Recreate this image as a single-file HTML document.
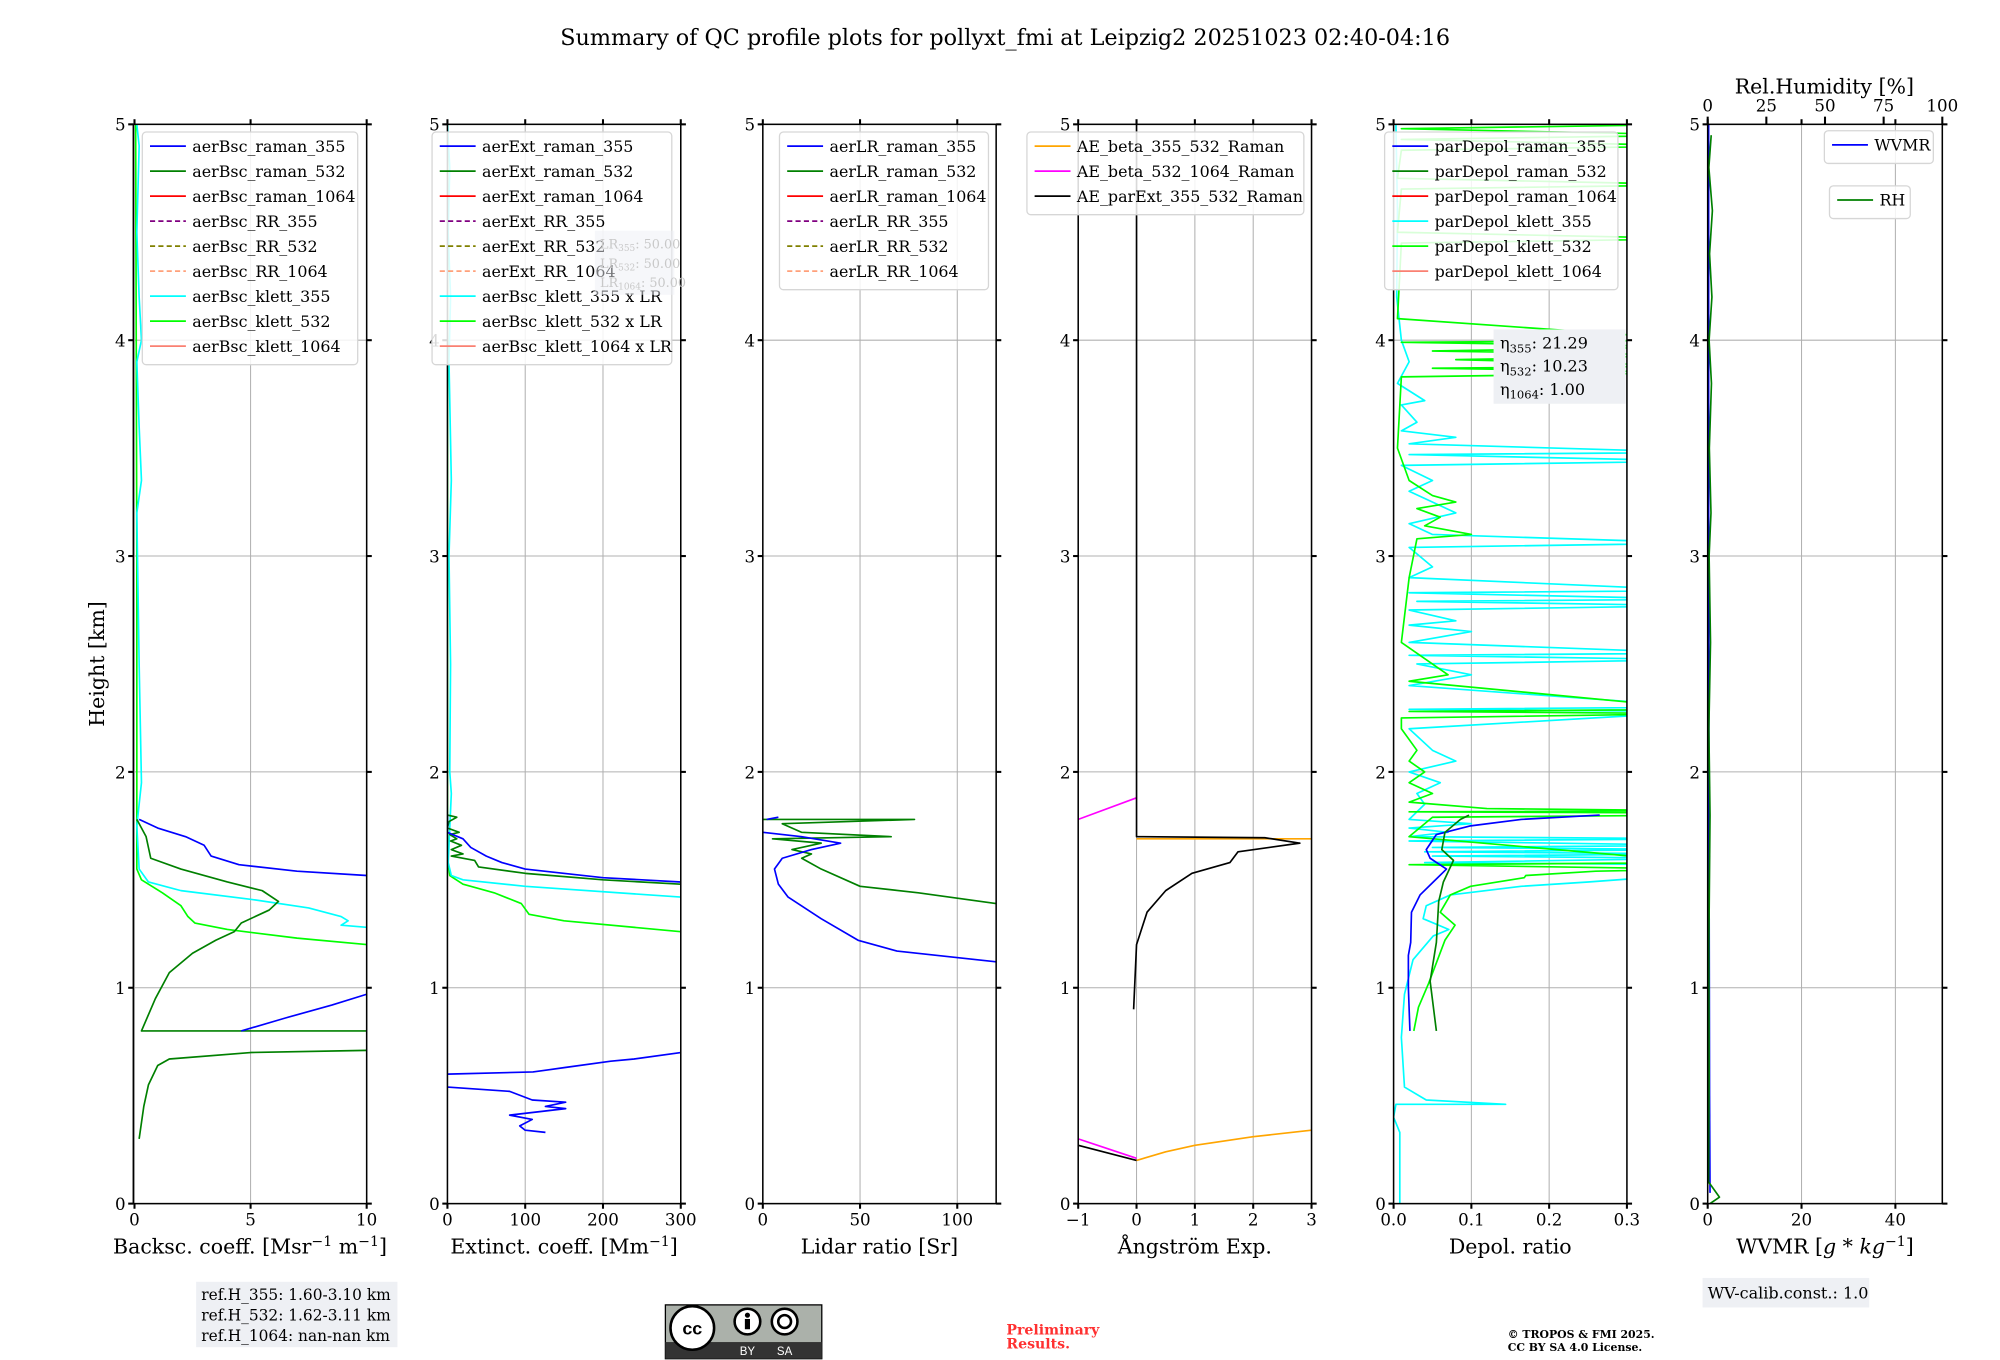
<!DOCTYPE html>
<html><head><meta charset="utf-8"><style>
html,body{margin:0;padding:0;background:#fff;}
svg{display:block;font-family:"DejaVu Serif","Liberation Serif",serif;}
</style></head><body>
<svg id="fig" width="2000" height="1360" viewBox="0 0 1560 1061" preserveAspectRatio="none" xmlns="http://www.w3.org/2000/svg">
<text x="784" y="35" font-size="17.4" text-anchor="middle">Summary of QC profile plots for pollyxt_fmi at Leipzig2 20251023 02:40-04:16</text>
<text transform="translate(81,518) rotate(-90)" font-size="16" text-anchor="middle">Height [km]</text>
</svg>
<script>
// ---------- data (value, height km) ----------
const heightTicks=[0,1,2,3,4,5];
const bscTicks=[0,5,10];
const extTicks=[0,100,200,300];
const lrTicks=[0,50,100];
const aeTicks=[-1,0,1,2,3];
const depTicks=[0,0.1,0.2,0.3];
const wvTicks=[0,20,40];
const rhTicks=[0,25,50,75,100];

const bsc355=[[0.2,1.78],[1,1.74],[2.2,1.70],[3.0,1.66],[3.3,1.61],[4.5,1.57],[7,1.54],[10,1.52],[30,1.50]];
const bsc355Low=[[4.6,0.80],[6.5,0.86],[8.5,0.92],[10,0.97],[30,1.1]];
const bsc532=[[0.1,1.78],[0.5,1.70],[0.7,1.60],[2,1.55],[4,1.49],[5.5,1.45],[6.2,1.40],[5.8,1.36],[4.6,1.30],[4.3,1.26],[3.5,1.22],[2.5,1.16],[1.5,1.07],[0.9,0.95],[0.3,0.80],[30,0.80],[30,0.72],[10,0.71],[5,0.70],[1.5,0.67],[1.0,0.64],[0.6,0.55],[0.4,0.45],[0.2,0.30]];
const bscKlett355=[[0.1,5.0],[0.2,4.9],[0.1,4.5],[0.2,4.2],[0.3,4.0],[0.1,3.9],[0.2,3.6],[0.3,3.35],[0.1,3.2],[0.2,2.5],[0.3,1.95],[0.1,1.75],[0.2,1.55],[0.6,1.49],[2,1.45],[5,1.41],[7.5,1.37],[8.9,1.33],[9.2,1.31],[8.9,1.29],[10,1.28],[30,1.25]];
const bscKlett532=[[0.05,5],[0.1,3],[0.1,1.55],[0.3,1.50],[1.2,1.44],[2,1.38],[2.3,1.33],[2.6,1.30],[4,1.27],[7,1.23],[10,1.20],[30,1.16]];

const ext355=[[0,1.80],[0,1.72],[20,1.69],[30,1.65],[50,1.61],[70,1.58],[100,1.55],[200,1.51],[300,1.49],[500,1.47]];
const ext355Low=[[500,0.72],[300,0.70],[240,0.67],[210,0.66],[150,0.63],[130,0.62],[110,0.61],[0,0.60]];
const ext355Low2=[[0,0.54],[80,0.52],[109,0.48],[152,0.47],[126,0.45],[152,0.44],[80,0.41],[109,0.39],[93,0.36],[100,0.34],[126,0.33]];
const ext532=[[0,1.80],[12,1.79],[2,1.77],[0,1.74],[15,1.72],[3,1.71],[12,1.69],[4,1.68],[18,1.66],[5,1.64],[20,1.62],[5,1.61],[35,1.59],[40,1.56],[100,1.53],[200,1.50],[300,1.48],[500,1.46]];
const extKlett355=[[0,5],[3,4.8],[1,4.5],[4,4.2],[2,3.9],[5,3.35],[2,3.0],[4,2.5],[3,2.0],[5,1.9],[1,1.58],[5,1.52],[20,1.50],[100,1.47],[300,1.42],[500,1.40]];
const extKlett532=[[0,5],[0,1.6],[3,1.52],[20,1.48],[60,1.44],[95,1.39],[105,1.34],[150,1.31],[300,1.26],[500,1.24]];

const lr355Top=[[2,1.78],[8,1.79]];
const lr355=[[0,1.72],[20,1.70],[40,1.67],[25,1.64],[10,1.60],[6,1.55],[8,1.48],[13,1.42],[30,1.32],[49,1.22],[69,1.17],[120,1.12],[200,1.08]];
const lr532=[[0,1.78],[78,1.78],[10,1.76],[20,1.72],[66,1.70],[5,1.69],[30,1.67],[15,1.64],[25,1.62],[20,1.60],[30,1.55],[50,1.47],[80,1.44],[120,1.39],[200,1.33]];

const aeParExt=[[0,5.2],[0,1.70],[2.2,1.695],[2.8,1.67],[1.74,1.63],[1.6,1.58],[0.95,1.53],[0.5,1.45],[0.18,1.35],[0,1.2],[-0.05,0.9]];
const aeParExtLow=[[-1,0.27],[0,0.2]];
const aeBsc355=[[0,1.69],[4,1.69]];
const aeBsc355Low=[[0,0.2],[0.5,0.24],[1,0.27],[2,0.31],[3,0.34]];
const aeBsc532=[[-1,1.78],[0,1.88]];
const aeBsc532Low=[[-1,0.30],[0,0.21]];

const dep355=[[0.265,1.80],[0.164,1.78],[0.099,1.75],[0.055,1.71],[0.042,1.64],[0.047,1.60],[0.068,1.55],[0.051,1.49],[0.034,1.43],[0.023,1.35],[0.022,1.21],[0.019,1.15],[0.019,1.00],[0.021,0.80]];
const dep532=[[0.097,1.80],[0.086,1.78],[0.066,1.72],[0.062,1.64],[0.077,1.59],[0.064,1.49],[0.058,1.40],[0.055,1.21],[0.047,1.03],[0.055,0.80]];
const depKlett355=[[0.003,5],[0.005,4.6],[0.004,4.2],[0.01,4.0],[0.02,3.9],[0.005,3.8],[0.04,3.72],[0.01,3.7],[0.03,3.62],[0.01,3.58],[0.08,3.55],[0.02,3.52],[0.4,3.48],[0.02,3.47],[0.4,3.44],[0.01,3.42],[0.05,3.35],[0.02,3.3],[0.08,3.2],[0.02,3.15],[0.05,3.1],[0.4,3.06],[0.02,3.04],[0.05,2.95],[0.02,2.9],[0.4,2.84],[0.02,2.83],[0.4,2.80],[0.03,2.79],[0.4,2.77],[0.02,2.75],[0.08,2.70],[0.02,2.68],[0.1,2.65],[0.02,2.6],[0.4,2.55],[0.02,2.54],[0.4,2.52],[0.03,2.5],[0.1,2.45],[0.02,2.4],[0.4,2.30],[0.02,2.29],[0.4,2.28],[0.02,2.2],[0.05,2.1],[0.08,2.05],[0.02,2.0],[0.06,1.95],[0.03,1.9],[0.04,1.85],[0.02,1.78],[0.1,1.76],[0.02,1.74],[0.07,1.72],[0.02,1.70],[0.4,1.69],[0.02,1.68],[0.4,1.66],[0.05,1.65],[0.4,1.64],[0.04,1.63],[0.4,1.62],[0.05,1.61],[0.4,1.60],[0.04,1.58],[0.4,1.57],[0.4,1.53],[0.25,1.49],[0.164,1.47],[0.073,1.43],[0.042,1.38],[0.038,1.32],[0.071,1.27],[0.051,1.24],[0.025,1.13],[0.014,0.97],[0.01,0.77],[0.014,0.54],[0.042,0.48],[0.144,0.46],[0.003,0.46],[0,0.40],[0.008,0.33],[0.008,0]];
const depKlett532=[[0.4,5.0],[0.01,4.98],[0.4,4.95],[0.01,4.93],[0.4,4.9],[0.01,4.88],[0.005,4.75],[0.4,4.72],[0.01,4.7],[0.005,4.5],[0.4,4.47],[0.01,4.45],[0.005,4.1],[0.4,4.0],[0.01,3.99],[0.4,3.97],[0.05,3.95],[0.4,3.93],[0.08,3.91],[0.4,3.88],[0.05,3.87],[0.4,3.85],[0.01,3.83],[0.005,3.5],[0.02,3.35],[0.05,3.28],[0.08,3.25],[0.03,3.22],[0.06,3.18],[0.04,3.14],[0.1,3.1],[0.03,3.08],[0.02,2.9],[0.01,2.6],[0.07,2.45],[0.02,2.42],[0.4,2.29],[0.02,2.28],[0.4,2.27],[0.01,2.25],[0.01,2.2],[0.03,2.1],[0.02,2.05],[0.04,2.0],[0.02,1.95],[0.05,1.9],[0.02,1.86],[0.12,1.83],[0.4,1.82],[0.02,1.815],[0.4,1.81],[0.4,1.80],[0.05,1.79],[0.02,1.7],[0.4,1.58],[0.02,1.57],[0.4,1.55],[0.26,1.54],[0.17,1.52],[0.168,1.51],[0.099,1.47],[0.073,1.43],[0.06,1.35],[0.079,1.29],[0.066,1.22],[0.045,1.02],[0.032,0.91],[0.026,0.80]];

const rh=[[1.5,4.95],[0.5,4.8],[2,4.6],[0.8,4.4],[1.8,4.2],[0.6,4.0],[1.6,3.8],[0.7,3.5],[1.4,3.2],[0.6,3.0],[1.2,2.6],[0.5,2.2],[1.0,1.8],[0.5,1.2],[0.6,0.6],[0.4,0.1],[5,0.03],[1,0.0]];
const wvmr=[[0.2,5],[0.2,3],[0.3,1.5],[0.4,0.5],[0.5,0.05]];

// ---------- drawing ----------
const NS='http://www.w3.org/2000/svg';
const svg=document.getElementById('fig');
const TOP=97,BOT=939;
function mk(tag,attrs,parent){const e=document.createElementNS(NS,tag);for(const k in attrs)e.setAttribute(k,attrs[k]);(parent||svg).appendChild(e);return e;}
function yOf(h){return BOT-(h/5)*(BOT-TOP);}
const panels=[];
function panel(name,left,width,xmin,xmax,ticks,fmt,xlabel){
  const p={name,left,width,xmin,xmax,x:v=>left+(v-xmin)/(xmax-xmin)*width};
  const g=mk('g',{});
  
  
  p.g=g;
  const cp=mk('clipPath',{id:'clip-'+name},g);
  mk('rect',{x:left,y:TOP,width:width,height:BOT-TOP},cp);
  ticks.forEach(t=>{const gl=mk('line',{x1:p.x(t),x2:p.x(t),y1:TOP,y2:BOT,stroke:'#b0b0b0','stroke-width':0.8},g);});
  heightTicks.forEach(t=>{const gl=mk('line',{x1:left,x2:left+width,y1:yOf(t),y2:yOf(t),stroke:'#b0b0b0','stroke-width':0.8},g);});
  p.series=mk('g',{'clip-path':'url(#clip-'+name+')'},g);
  const fr=mk('rect',{x:left,y:TOP,width:width,height:BOT-TOP,fill:'none',stroke:'#000','stroke-width':1.2},g);
  
  ticks.forEach(t=>{
    const X=p.x(t);
    mk('line',{x1:X,x2:X,y1:BOT,y2:BOT+4,stroke:'#000','stroke-width':1.6},g);
    mk('line',{x1:X,x2:X,y1:TOP,y2:TOP-4,stroke:'#000','stroke-width':1.6},g);
    const tl=mk('text',{x:X,y:BOT+17,'font-size':13,'text-anchor':'middle'},g);tl.textContent=fmt(t);
    
  });
  heightTicks.forEach(t=>{
    const Y=yOf(t);
    mk('line',{x1:left-4,x2:left,y1:Y,y2:Y,stroke:'#000','stroke-width':1.6},g);
    mk('line',{x1:left+width,x2:left+width+4,y1:Y,y2:Y,stroke:'#000','stroke-width':1.6},g);
    const tl=mk('text',{x:left-6,y:Y+5,'font-size':13,'text-anchor':'end'},g);tl.textContent=String(t);
    
  });
  const xl=mk('text',{x:left+width/2,y:978,'font-size':16,'text-anchor':'middle'},g);
  xl.innerHTML=xlabel;
  
  panels.push(p);return p;
}
function line(p,data,color,name,dash){
  const d=data.map((pt,i)=>(i?'L':'M')+p.x(pt[0]).toFixed(2)+','+yOf(pt[1]).toFixed(2)).join('');
  const e=mk('path',{d:d,fill:'none',stroke:color,'stroke-width':1.3,'stroke-linejoin':'round'},p.series);
  if(dash)e.setAttribute('stroke-dasharray',dash);
  
  
}
function legend(name,x,y,w,entries){
  const g=mk('g',{});
  
  
  const h=entries.length*19.5+6;
  mk('rect',{x:x,y:y,width:w,height:h,rx:3,fill:'#fff','fill-opacity':0.85,stroke:'#d6d6d6','stroke-width':1},g);
  entries.forEach((en,i)=>{
    const yy=y+11+i*19.5;
    const l=mk('line',{x1:x+6,x2:x+34,y1:yy,y2:yy,stroke:en[1],'stroke-width':1.4},g);
    if(en[2])l.setAttribute('stroke-dasharray','4,2.5');
    const t=mk('text',{x:x+39,y:yy+4.5,'font-size':12.4},g);t.textContent=en[0];
    
  });
}

const p1=panel('backscatter-panel',104,182,-0.05,10,bscTicks,String,'Backsc. coeff. [Msr<tspan font-size="11" dy="-6">−1</tspan><tspan dy="6"> m</tspan><tspan font-size="11" dy="-6">−1</tspan><tspan dy="6">]</tspan>');
const p2=panel('extinction-panel',349,182,0,300,extTicks,String,'Extinct. coeff. [Mm<tspan font-size="11" dy="-6">−1</tspan><tspan dy="6">]</tspan>');
const p3=panel('lidar-ratio-panel',595,182,0,120,lrTicks,String,'Lidar ratio [Sr]');
const p4=panel('angstrom-panel',841,182,-1,3,aeTicks,t=>t<0?'−'+Math.abs(t):String(t),'Ångström Exp.');
const p5=panel('depol-panel',1087,182,0,0.3,depTicks,t=>t.toFixed(1),'Depol. ratio');
const p6=panel('wv-panel',1332,183,0,50,wvTicks,String,'WVMR [<tspan font-style="italic">g * kg</tspan><tspan font-size="11" dy="-6">−1</tspan><tspan dy="6">]</tspan>');

line(p1,bscKlett532,'#00ff00','aerBsc-klett-532-line');
line(p1,bscKlett355,'#00ffff','aerBsc-klett-355-line');
line(p1,bsc532,'#008000','aerBsc-raman-532-line');
line(p1,bsc355,'#0000ff','aerBsc-raman-355-line');
line(p1,bsc355Low,'#0000ff','aerBsc-raman-355-lower-line');
line(p2,extKlett532,'#00ff00','aerBsc-klett-532-lr-line');
line(p2,extKlett355,'#00ffff','aerBsc-klett-355-lr-line');
line(p2,ext532,'#008000','aerExt-raman-532-line');
line(p2,ext355,'#0000ff','aerExt-raman-355-line');
line(p2,ext355Low,'#0000ff','aerExt-raman-355-lower-line');
line(p2,ext355Low2,'#0000ff','aerExt-raman-355-lowest-line');
line(p3,lr532,'#008000','aerLR-raman-532-line');
line(p3,lr355,'#0000ff','aerLR-raman-355-line');
line(p3,lr355Top,'#0000ff','aerLR-raman-355-top-line');
line(p4,aeBsc355,'#ffa500','ae-beta-355-532-line');
line(p4,aeBsc355Low,'#ffa500','ae-beta-355-532-lower-line');
line(p4,aeBsc532,'#ff00ff','ae-beta-532-1064-line');
line(p4,aeBsc532Low,'#ff00ff','ae-beta-532-1064-lower-line');
line(p4,aeParExt,'#000000','ae-parext-355-532-line');
line(p4,aeParExtLow,'#000000','ae-parext-355-532-lower-line');
line(p5,depKlett355,'#00ffff','parDepol-klett-355-line');
line(p5,depKlett532,'#00ff00','parDepol-klett-532-line');
line(p5,dep355,'#0000ff','parDepol-raman-355-line');
line(p5,dep532,'#008000','parDepol-raman-532-line');
line(p6,wvmr,'#0000ff','wvmr-line');
const rhP={x:v=>1332+v/100*183,series:p6.series};
line(rhP,rh,'#008000','rh-line');
rhTicks.forEach(t=>{
  const X=rhP.x(t);
  mk('line',{x1:X,x2:X,y1:TOP-6,y2:TOP,stroke:'#000','stroke-width':1.6});
  const tl=mk('text',{x:X,y:TOP-10,'font-size':13,'text-anchor':'middle'});tl.textContent=String(t);
  
});
const rht=mk('text',{x:1423,y:73,'font-size':16,'text-anchor':'middle'});rht.textContent='Rel.Humidity [%]';


legend('backscatter-legend',111,103,168,[['aerBsc_raman_355','#0000ff'],['aerBsc_raman_532','#008000'],['aerBsc_raman_1064','#ff0000'],['aerBsc_RR_355','#800080',1],['aerBsc_RR_532','#808000',1],['aerBsc_RR_1064','#ffa07a',1],['aerBsc_klett_355','#00ffff'],['aerBsc_klett_532','#00ff00'],['aerBsc_klett_1064','#fa8072']]);
legend('extinction-legend',337,103,187,[['aerExt_raman_355','#0000ff'],['aerExt_raman_532','#008000'],['aerExt_raman_1064','#ff0000'],['aerExt_RR_355','#800080',1],['aerExt_RR_532','#808000',1],['aerExt_RR_1064','#ffa07a',1],['aerBsc_klett_355 x LR','#00ffff'],['aerBsc_klett_532 x LR','#00ff00'],['aerBsc_klett_1064 x LR','#fa8072']]);
legend('lidar-ratio-legend',608,103,163,[['aerLR_raman_355','#0000ff'],['aerLR_raman_532','#008000'],['aerLR_raman_1064','#ff0000'],['aerLR_RR_355','#800080',1],['aerLR_RR_532','#808000',1],['aerLR_RR_1064','#ffa07a',1]]);
legend('angstrom-legend',801,103,216,[['AE_beta_355_532_Raman','#ffa500'],['AE_beta_532_1064_Raman','#ff00ff'],['AE_parExt_355_532_Raman','#000000']]);
legend('depol-legend',1080,103,182,[['parDepol_raman_355','#0000ff'],['parDepol_raman_532','#008000'],['parDepol_raman_1064','#ff0000'],['parDepol_klett_355','#00ffff'],['parDepol_klett_532','#00ff00'],['parDepol_klett_1064','#fa8072']]);
legend('wvmr-legend',1423,102,85,[['WVMR','#0000ff']]);
legend('rh-legend',1427,145,63,[['RH','#008000']]);
</script>
<svg style="position:absolute;left:0;top:0" width="2000" height="1360" viewBox="0 0 1560 1061" preserveAspectRatio="none" xmlns="http://www.w3.org/2000/svg" font-family="DejaVu Serif, Liberation Serif, serif">
<g fill="#c8c8c8" font-size="10">
<rect x="464" y="180" width="62" height="50" fill="#eef0f6" fill-opacity="0.5"/>
<text x="468" y="194">LR<tspan font-size="7" dy="2">355</tspan><tspan dy="-2">: 50.00</tspan></text>
<text x="468" y="209">LR<tspan font-size="7" dy="2">532</tspan><tspan dy="-2">: 50.00</tspan></text>
<text x="468" y="224">LR<tspan font-size="7" dy="2">1064</tspan><tspan dy="-2">: 50.00</tspan></text>
</g>
<g font-size="12.5">
<rect x="1165" y="257" width="103" height="58" fill="#eef0f4"/>
<text x="1170" y="272">η<tspan font-size="9" dy="3">355</tspan><tspan dy="-3">: 21.29</tspan></text>
<text x="1170" y="290">η<tspan font-size="9" dy="3">532</tspan><tspan dy="-3">: 10.23</tspan></text>
<text x="1170" y="308">η<tspan font-size="9" dy="3">1064</tspan><tspan dy="-3">: 1.00</tspan></text>
</g>
<g font-size="12">
<rect x="153" y="1000" width="157" height="51" fill="#eef0f4"/>
<text x="157" y="1014">ref.H_355: 1.60-3.10 km</text>
<text x="157" y="1030">ref.H_532: 1.62-3.11 km</text>
<text x="157" y="1046">ref.H_1064: nan-nan km</text>
</g>
<g>
<rect x="519" y="1018" width="122" height="42" fill="#abb1aa" stroke="#000" stroke-width="1"/>
<rect x="519" y="1047" width="122" height="13" fill="#333"/>
<circle cx="540" cy="1036" r="17" fill="#fff" stroke="#000" stroke-width="2"/>
<text x="540" y="1041" font-family="Liberation Sans, sans-serif" font-weight="bold" font-size="14" text-anchor="middle">cc</text>
<circle cx="583" cy="1031" r="10" fill="#fff" stroke="#000" stroke-width="2"/>
<circle cx="583" cy="1026" r="2" fill="#000"/><rect x="581" y="1029" width="4" height="8" fill="#000"/>
<circle cx="612" cy="1031" r="10" fill="#fff" stroke="#000" stroke-width="2"/>
<circle cx="612" cy="1031" r="5" fill="none" stroke="#000" stroke-width="2"/>
<text x="583" y="1057" fill="#fff" font-family="Liberation Sans, sans-serif" font-size="9" text-anchor="middle">BY</text>
<text x="612" y="1057" fill="#fff" font-family="Liberation Sans, sans-serif" font-size="9" text-anchor="middle">SA</text>
</g>
<g fill="#ff3030" font-weight="bold" font-size="11">
<text x="785" y="1041">Preliminary</text>
<text x="785" y="1052">Results.</text>
</g>
<g font-weight="bold" font-size="8.5">
<text x="1176" y="1044">© TROPOS &amp; FMI 2025.</text>
<text x="1176" y="1054">CC BY SA 4.0 License.</text>
</g>
<g font-size="12.5">
<rect x="1328" y="997" width="130" height="23" fill="#eef0f4"/>
<text x="1332" y="1013">WV-calib.const.: 1.0</text>
</g>
</svg>
</body></html>
